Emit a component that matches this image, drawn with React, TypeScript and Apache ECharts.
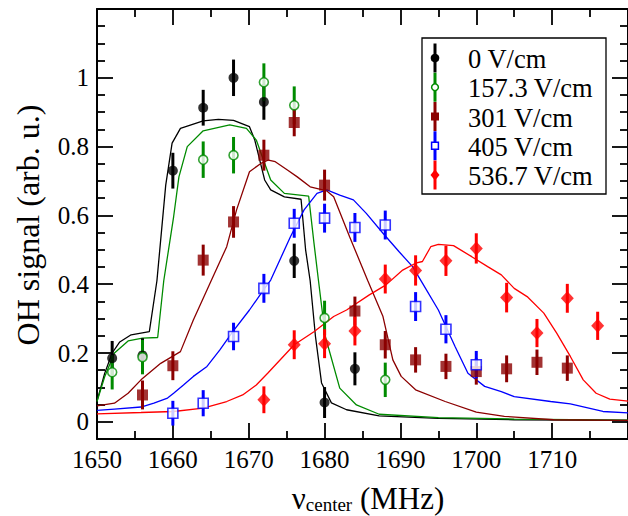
import React, { useEffect, useRef } from "react";
import * as echarts from "echarts";

const FONT = '"Liberation Serif", "Times New Roman", serif';

// ---- data ----
const legendNames = ["0 V/cm", "157.3 V/cm", "301 V/cm", "405 V/cm", "536.7 V/cm"];
const colors = ["#000000", "#008b00", "#8b0000", "#0000ff", "#ff0000"];

const x0 = [1652, 1656, 1660, 1664, 1668, 1672, 1676, 1680, 1684];
const y0 = [0.185, 0.193, 0.73, 0.913, 1.0, 0.93, 0.468, 0.056, 0.154];
const e0 = [0.05, 0.05, 0.052, 0.052, 0.053, 0.052, 0.05, 0.045, 0.048];

const x1 = [1652, 1656, 1664, 1668, 1672, 1676, 1680, 1688];
const y1 = [0.144, 0.188, 0.762, 0.775, 0.987, 0.92, 0.302, 0.122];
const e1 = [0.05, 0.05, 0.053, 0.053, 0.055, 0.055, 0.05, 0.05];

const x2 = [1656, 1660, 1664, 1668, 1672, 1676, 1680, 1684, 1688, 1692, 1696, 1700, 1704, 1708, 1712];
const y2 = [0.078, 0.163, 0.47, 0.581, 0.775, 0.87, 0.688, 0.322, 0.224, 0.18, 0.161, 0.146, 0.154, 0.173, 0.156];
const e2 = [0.042, 0.042, 0.045, 0.046, 0.045, 0.04, 0.045, 0.042, 0.04, 0.037, 0.037, 0.038, 0.039, 0.037, 0.037];

const x3 = [1660, 1664, 1668, 1672, 1676, 1680, 1684, 1688, 1692, 1696, 1700];
const y3 = [0.025, 0.054, 0.248, 0.388, 0.577, 0.592, 0.565, 0.572, 0.335, 0.269, 0.166];
const e3 = [0.036, 0.038, 0.04, 0.042, 0.042, 0.042, 0.042, 0.042, 0.042, 0.041, 0.04];

const x4 = [1672, 1676, 1680, 1684, 1688, 1692, 1696, 1700, 1704, 1708, 1712, 1716];
const y4 = [0.064, 0.224, 0.227, 0.264, 0.415, 0.44, 0.468, 0.504, 0.361, 0.258, 0.359, 0.279];
const e4 = [0.039, 0.042, 0.042, 0.042, 0.042, 0.044, 0.044, 0.044, 0.043, 0.041, 0.042, 0.041];

const fit0 = [
  [1650, 0.06], [1651, 0.14], [1652, 0.2], [1653, 0.232], [1654.5, 0.253], [1656.9, 0.262],
  [1657.9, 0.41], [1659.06, 0.688], [1659.9, 0.81], [1661.0, 0.853], [1664.0, 0.875],
  [1666.0, 0.879], [1668.0, 0.876], [1670.1, 0.858], [1670.8, 0.819], [1672.1, 0.703],
  [1672.9, 0.674], [1674.7, 0.654], [1676.9, 0.647], [1677.5, 0.5], [1678.1, 0.41],
  [1678.8, 0.248], [1679.6, 0.113], [1680.9, 0.055], [1682.9, 0.035], [1687.2, 0.017],
  [1695, 0.01], [1705, 0.006], [1720, 0.004],
];
const fit1 = [
  [1650, 0.059], [1651, 0.13], [1652.3, 0.2], [1654.1, 0.235], [1656, 0.243], [1658.0, 0.245],
  [1658.8, 0.41], [1660.1, 0.596], [1660.8, 0.712], [1661.9, 0.8], [1664.0, 0.846],
  [1667.5, 0.863], [1669.7, 0.853], [1671.0, 0.819], [1671.8, 0.77], [1672.9, 0.703],
  [1674.7, 0.664], [1677.9, 0.656], [1678.6, 0.52], [1679.2, 0.41], [1680.1, 0.248],
  [1682.0, 0.098], [1684.2, 0.049], [1687.2, 0.022], [1695, 0.012], [1705, 0.008], [1720, 0.005],
];
const fit2 = [
  [1650, 0.046], [1652.3, 0.054], [1654.1, 0.083], [1655.8, 0.122], [1658.4, 0.17], [1661.0, 0.204],
  [1662.7, 0.296], [1664.9, 0.403], [1667.1, 0.509], [1668.4, 0.616], [1670.1, 0.727],
  [1671.6, 0.751], [1672.6, 0.761], [1673.5, 0.756], [1675.1, 0.732], [1676.4, 0.712],
  [1678.1, 0.683], [1680.3, 0.671], [1681.2, 0.654], [1683.3, 0.538], [1685.7, 0.41],
  [1687.7, 0.306], [1689.0, 0.18], [1690.1, 0.132], [1692.0, 0.093], [1695.9, 0.059],
  [1700.0, 0.028], [1703.7, 0.016], [1710.2, 0.006], [1720, 0.004],
];
const fit3 = [
  [1650, 0.033], [1652.3, 0.037], [1655.8, 0.043], [1657.5, 0.054], [1659.3, 0.069], [1660.1, 0.083],
  [1661.4, 0.107], [1662.7, 0.132], [1664.5, 0.161], [1666.2, 0.209], [1667.9, 0.262],
  [1670.1, 0.325], [1672, 0.385], [1672.9, 0.412], [1675.5, 0.538], [1677.3, 0.616],
  [1679.0, 0.664], [1680.3, 0.674], [1682.0, 0.659], [1683.8, 0.645], [1685.5, 0.606],
  [1687.7, 0.548], [1689.8, 0.495], [1691.6, 0.451], [1692.9, 0.403], [1695.0, 0.325],
  [1697.2, 0.219], [1698.9, 0.141], [1701.1, 0.103], [1703.3, 0.088], [1705.0, 0.073],
  [1709.8, 0.059], [1712.4, 0.052], [1716.7, 0.03], [1720, 0.026],
];
const fit4 = [
  [1650, 0.023], [1655.8, 0.027], [1660.1, 0.03], [1664.0, 0.04], [1667.1, 0.059], [1669.2, 0.078],
  [1671.0, 0.107], [1672.5, 0.141], [1676.0, 0.224], [1678.6, 0.262], [1681.2, 0.306],
  [1682.9, 0.325], [1685.9, 0.369], [1688.1, 0.398], [1690.3, 0.441], [1692.0, 0.461],
  [1692.9, 0.466], [1694.0, 0.509], [1695.0, 0.516], [1697.0, 0.512], [1699.4, 0.48],
  [1701.5, 0.451], [1703.3, 0.427], [1705.0, 0.388], [1706.7, 0.364], [1708.9, 0.316],
  [1710.6, 0.258], [1712.4, 0.19], [1714.1, 0.122], [1715.8, 0.083], [1717.6, 0.066], [1720, 0.06],
];

const yMajor = [0, 0.2, 0.4, 0.6, 0.8, 1];
const yMinor = [0.05, 0.1, 0.15, 0.25, 0.3, 0.35, 0.45, 0.5, 0.55, 0.65, 0.7, 0.75, 0.85, 0.9, 0.95, 1.05, 1.1, 1.15];

const xs = [x0, x1, x2, x3, x4];
const ys = [y0, y1, y2, y3, y4];
const es = [e0, e1, e2, e3, e4];
const fits = [fit0, fit1, fit2, fit3, fit4];

// marker styles
const markerSymbols = ["circle", "circle", "rect", "rect", "diamond"];
const markerSizes: any[] = [10, 9, 11, 10, [13, 14]];
const markerOpen = [false, true, false, true, false];

function legendGraphic() {
  const bx = 422, by = 38, bw = 184, bh = 156;
  const children: any[] = [
    {
      type: "rect",
      shape: { x: bx, y: by, width: bw, height: bh },
      style: { fill: "#fff", stroke: "#000", lineWidth: 1.3 },
    },
  ];
  for (let i = 0; i < legendNames.length; i++) {
    const cy = 58 + i * 29.25;
    const cx = 435;
    const c = colors[i];
    children.push({
      type: "line",
      shape: { x1: cx, y1: cy - 14.5, x2: cx, y2: cy + 14.5 },
      style: { stroke: c, lineWidth: 3 },
    });
    const open = markerOpen[i];
    const st = open ? { fill: "#fff", stroke: c, lineWidth: 1.5 } : { fill: c };
    if (markerSymbols[i] === "circle") {
      children.push({ type: "circle", shape: { cx, cy, r: open ? 3.4 : 4.3 }, style: st });
    } else if (markerSymbols[i] === "rect") {
      const s = open ? 6.8 : 8;
      children.push({ type: "rect", shape: { x: cx - s / 2, y: cy - s / 2, width: s, height: s }, style: st });
    } else {
      children.push({
        type: "polygon",
        shape: { points: [[cx, cy - 5.5], [cx + 4.5, cy], [cx, cy + 5.5], [cx - 4.5, cy]] },
        style: st,
      });
    }
    children.push({
      type: "text",
      x: 468,
      y: cy + 1,
      style: {
        text: legendNames[i],
        fontFamily: FONT,
        fontSize: 26.5,
        fill: "#000",
        align: "left",
        verticalAlign: "middle",
      },
    });
  }
  return { type: "group", z: 100, children };
}

export default function App() {
  const ref = useRef<HTMLDivElement>(null);
  useEffect(() => {
    if (!ref.current) return;
    const chart = echarts.init(ref.current, undefined, { renderer: "svg" });

    const axisLineStyle = { color: "#000", width: 2 };
    const tickStyle = { color: "#000", width: 1.8 };

    const series: any[] = [];
    for (let i = 0; i < 5; i++) {
      series.push({
        name: legendNames[i] + " fit",
        type: "line",
        data: fits[i],
        showSymbol: false,
        symbol: "none",
        lineStyle: { color: colors[i], width: 1.3 },
        z: 2,
        silent: true,
      });
    }
    for (let i = 0; i < 5; i++) {
      const color = colors[i];
      series.push({
        name: legendNames[i] + " err",
        type: "custom",
        data: xs[i].map((x, k) => [x, ys[i][k], es[i][k]]),
        encode: { x: 0, y: 1 },
        z: 3,
        silent: true,
        renderItem: (params: any, api: any) => {
          const x = api.value(0);
          const y = api.value(1);
          const e = api.value(2);
          const p1 = api.coord([x, y - e]);
          const p2 = api.coord([x, y + e]);
          return {
            type: "line",
            shape: { x1: p1[0], y1: p1[1], x2: p2[0], y2: p2[1] },
            style: { stroke: color, lineWidth: 3 },
          };
        },
      });
    }
    for (let i = 0; i < 5; i++) {
      series.push({
        name: legendNames[i],
        type: "scatter",
        data: xs[i].map((x, k) => [x, ys[i][k]]),
        symbol: markerSymbols[i],
        symbolSize: markerSizes[i],
        itemStyle: markerOpen[i]
          ? { color: "#ffffff", borderColor: colors[i], borderWidth: 1.6 }
          : { color: colors[i] },
        z: 4,
      });
    }

    const option: any = {
      animation: false,
      backgroundColor: "#ffffff",
      grid: { left: 97, right: -6, top: 9, bottom: 77, containLabel: false },
      xAxis: [
        {
          type: "value",
          position: "bottom",
          min: 1650,
          max: 1720,
          interval: 10,
          axisLine: { show: true, onZero: false, lineStyle: axisLineStyle },
          axisTick: { show: true, inside: true, length: 16, lineStyle: tickStyle },
          minorTick: { show: true, splitNumber: 2, length: 8, lineStyle: tickStyle },
          axisLabel: {
            fontSize: 25,
            fontFamily: FONT,
            color: "#000",
            margin: 8,
            showMaxLabel: false,
            formatter: (v: number) => String(v),
          },
          splitLine: { show: false },
          minorSplitLine: { show: false },
        },
        {
          type: "value",
          position: "top",
          min: 1650,
          max: 1720,
          interval: 10,
          axisLine: { show: true, onZero: false, lineStyle: axisLineStyle },
          axisTick: { show: true, inside: true, length: 16, lineStyle: tickStyle },
          minorTick: { show: true, splitNumber: 2, length: 8, lineStyle: tickStyle },
          axisLabel: { show: false },
          splitLine: { show: false },
        },
      ],
      yAxis: [
        {
          type: "value",
          position: "left",
          min: -0.05,
          max: 1.2,
          axisLine: { show: true, onZero: false, lineStyle: axisLineStyle },
          axisTick: { show: true, inside: true, length: 16, lineStyle: tickStyle, customValues: yMajor },
          axisLabel: {
            fontSize: 25,
            fontFamily: FONT,
            color: "#000",
            margin: 8,
            customValues: yMajor,
            formatter: (v: number) => String(v),
          },
          splitLine: { show: false },
        },
        {
          type: "value",
          position: "left",
          min: -0.05,
          max: 1.2,
          axisLine: { show: false },
          axisTick: { show: true, inside: true, length: 8, lineStyle: tickStyle, customValues: yMinor },
          axisLabel: { show: false },
          splitLine: { show: false },
        },
        {
          type: "value",
          position: "right",
          min: -0.05,
          max: 1.2,
          axisLine: { show: true, onZero: false, lineStyle: axisLineStyle },
          axisTick: { show: true, inside: true, length: 16, lineStyle: tickStyle, customValues: yMajor },
          axisLabel: { show: false },
          splitLine: { show: false },
        },
        {
          type: "value",
          position: "right",
          min: -0.05,
          max: 1.2,
          axisLine: { show: false },
          axisTick: { show: true, inside: true, length: 8, lineStyle: tickStyle, customValues: yMinor },
          axisLabel: { show: false },
          splitLine: { show: false },
        },
      ],
      graphic: [
        legendGraphic(),
        {
          type: "text",
          x: 28,
          y: 225,
          rotation: Math.PI / 2,
          style: {
            text: "OH signal (arb. u.)",
            fontFamily: FONT,
            fontSize: 32,
            fill: "#000",
            align: "center",
            verticalAlign: "middle",
          },
        },
        {
          type: "text",
          x: 368,
          y: 498,
          style: {
            text: "{a|ν}{b|center}{a| (MHz)}",
            align: "center",
            verticalAlign: "middle",
            rich: {
              a: { fontFamily: FONT, fontSize: 31, fill: "#000", lineHeight: 32 },
              b: { fontFamily: FONT, fontSize: 19, fill: "#000", lineHeight: 15, verticalAlign: "bottom" },
            },
          },
        },
      ],
      series,
    };
    chart.setOption(option);
    return () => chart.dispose();
  }, []);
  return (
    <div
      ref={ref}
      style={{ position: "fixed", left: 0, top: 0, width: 628, height: 516, background: "#fff" }}
    />
  );
}
